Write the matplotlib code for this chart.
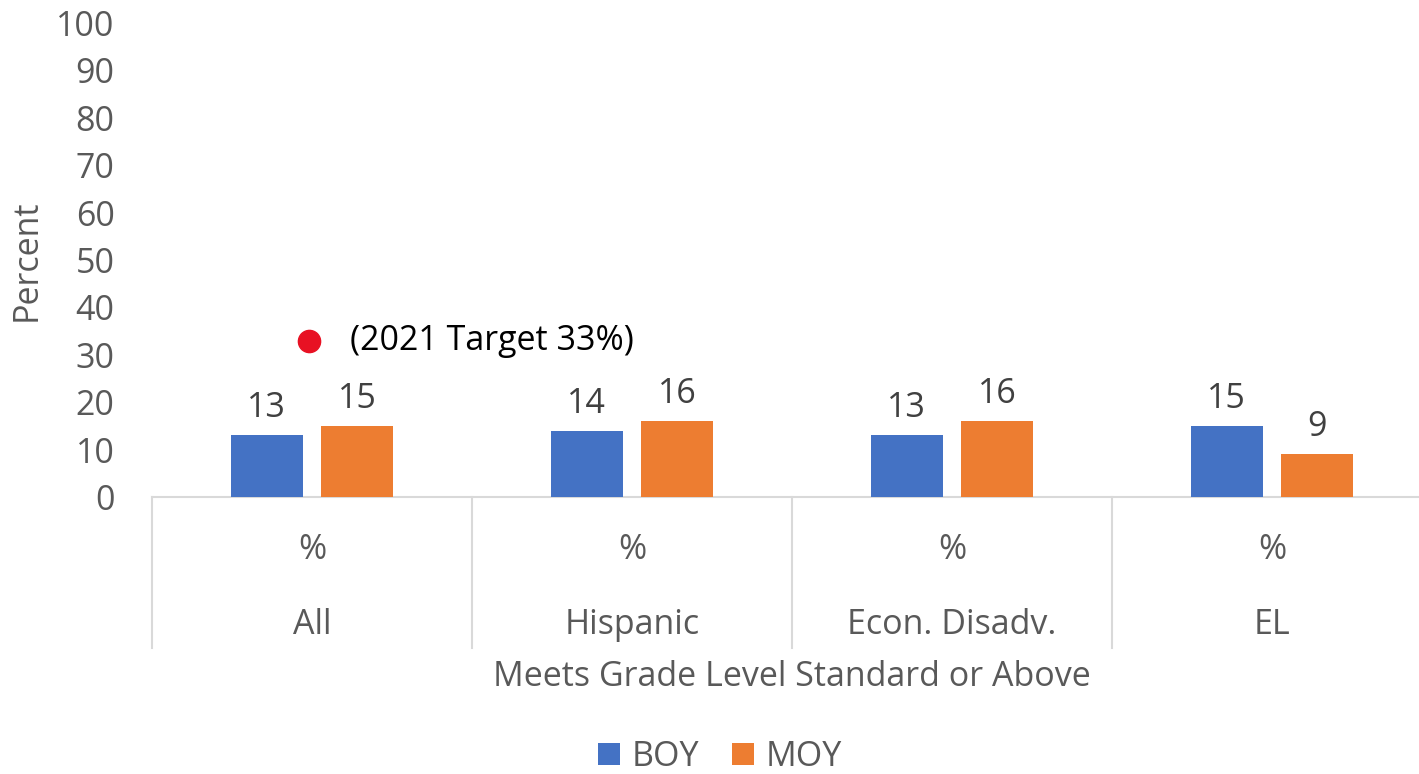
import matplotlib
matplotlib.use("Agg")
import matplotlib.pyplot as plt
from matplotlib.transforms import blended_transform_factory
from matplotlib.patches import Patch
import numpy as np

categories = ["All", "Hispanic", "Econ. Disadv.", "EL"]
sub_label = "%"
boy = [13, 14, 13, 15]
moy = [15, 16, 16, 9]
series_names = ["BOY", "MOY"]
target_value = 33
target_label = "(2021 Target 33%)"
y_ticks = list(range(0, 101, 10))

plt.rcParams['font.family'] = ['Open Sans', 'DejaVu Sans']
gray = "#595959"
blue = "#4472C4"
orange = "#ED7D31"
fs = 24.5

fig = plt.figure(figsize=(14.19, 7.74), dpi=100)
ax = fig.add_axes([152/1419, (774-497)/774, 1280/1419, (497-23)/774])

x = np.arange(len(categories))
w = 0.225
off = 0.142
b1 = ax.bar(x - off, boy, w, color=blue, zorder=3)
b2 = ax.bar(x + off, moy, w, color=orange, zorder=3)
for bars, vals in ((b1, boy), (b2, moy)):
    for r, v in zip(bars, vals):
        ax.text(r.get_x() + r.get_width()/2, v + 2.1, f"{v}", ha="center", va="bottom",
                fontsize=fs, color="#404040")

ax.plot([x[0] - 0.01], [target_value], 'o', color="#E81123", markersize=16, zorder=4)
ax.text(x[0] + 0.12, target_value, target_label, ha="left", va="center",
        fontsize=fs, color="#000000")

ax.set_xlim(-0.5, len(categories) - 0.5)
ax.set_ylim(0, 100)
ax.set_yticks(y_ticks)
ax.set_yticklabels([str(t) for t in y_ticks], fontsize=fs, color=gray)
ax.tick_params(axis='y', length=0, pad=27)
ax.set_xticks([])
for s in ("left", "right", "top"):
    ax.spines[s].set_visible(False)
ax.spines["bottom"].set_color("#D9D9D9")
ax.spines["bottom"].set_linewidth(1.5)

trans = blended_transform_factory(ax.transData, ax.transAxes)
ax_h = 474.0
for i in range(len(categories)):
    ax.plot([i - 0.5, i - 0.5], [0, -(648-497)/ax_h], transform=trans, color="#D9D9D9",
            lw=1.5, clip_on=False)
    ax.text(i, -(550-497)/ax_h, sub_label, transform=trans, ha="center", va="center",
            fontsize=fs, color=gray)
    ax.text(i, -(625-497)/ax_h, categories[i], transform=trans, ha="center", va="center",
            fontsize=fs, color=gray)

fig.text(792/1419, 1 - 677/774, "Meets Grade Level Standard or Above", ha="center", va="center",
         fontsize=fs, color=gray)
fig.text(27/1419, 1 - 260/774, "Percent", rotation=90, ha="center", va="center",
         fontsize=fs, color=gray)

handles = [Patch(facecolor=blue, edgecolor="none"), Patch(facecolor=orange, edgecolor="none")]
fig.legend(handles, series_names, loc="center", bbox_to_anchor=(720/1419, 1 - 757/774),
           ncol=2, frameon=False, fontsize=fs, labelcolor=gray, handlelength=0.65,
           handleheight=0.65, handletextpad=0.35, columnspacing=0.95)

fig.savefig("out.png", dpi=100)
